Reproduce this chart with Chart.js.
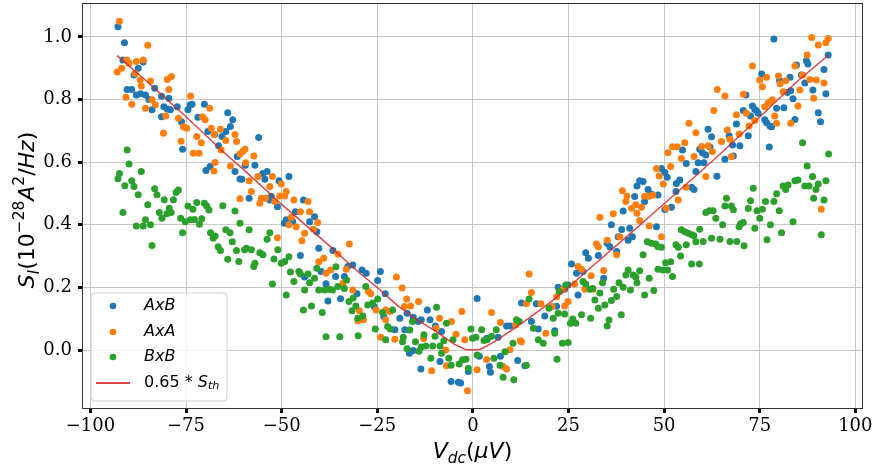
<!DOCTYPE html>
<html><head><meta charset="utf-8">
<script src="https://cdn.jsdelivr.net/npm/chart.js@4"></script>
<style>html,body{margin:0;padding:0;background:#fff}#wrap{width:874px;height:466px}</style>
</head><body><div id="wrap"><canvas id="c" width="874" height="466"></canvas></div>
<script>
const xTicks = [-100, -75, -50, -25, 0, 25, 50, 75, 100];
const yTicks = [0.0, 0.2, 0.4, 0.6, 0.8, 1.0];
const seriesNames = ['AxB', 'AxA', 'BxB', '0.65 * S_th'];

const axbPoints = [
[-92.8,1.032],[-91.5,0.926],[-91.1,0.981],[-90.4,0.832],[-89.2,0.832],[-88.6,0.878],[-88.0,0.814],[-87.5,0.90],[-86.9,0.818],[-86.2,0.92],[-85.6,0.814],[-84.7,0.80],[-83.9,0.767],[-83.2,0.836],[-81.4,0.81],[-81.4,0.745],[-80.8,0.777],[-79.9,0.77],[-79.5,0.804],[-79.1,0.767],[-77.3,0.777],[-76.2,0.729],[-75.9,0.641],[-74.5,0.767],[-73.9,0.783],[-73.4,0.785],[-71.9,0.743],[-70.2,0.785],[-69.8,0.573],[-69.3,0.698],[-68.7,0.586],[-67.5,0.688],[-66.5,0.652],[-65.6,0.682],[-64.6,0.698],[-64.1,0.758],[-63.4,0.714],[-62.8,0.735],[-62.2,0.57],[-61.6,0.618],[-60.9,0.546],
[-60.4,0.545],[-59.5,0.59],[-58.5,0.485],[-57.0,0.59],[-56.0,0.679],[-54.9,0.564],[-54.4,0.545],[-53.8,0.57],[-53.1,0.479],[-52.7,0.49],[-51.1,0.458],[-50.7,0.541],[-49.3,0.405],[-48.8,0.416],[-48.1,0.554],[-47.1,0.41],[-46.4,0.442],[-45.1,0.302],[-44.3,0.479],[-44.0,0.233],[-42.7,0.41],[-41.4,0.426],[-40.8,0.378],[-40.3,0.325],[-39.7,0.251],[-38.4,0.212],[-37.9,0.157],[-36.6,0.318],[-35.9,0.235],[-34.6,0.164],[-33.6,0.235],[-32.7,0.267],[-31.4,0.272],[-30.3,0.18],[-29.0,0.256],[-27.9,0.245],[-25.8,0.139],[-24.9,0.222],[-24.2,0.251],[-23.3,0.107],[-22.9,0.18],
[-20.4,0.065],[-19.1,0.102],[-17.8,0.065],[-17.2,0.118],[-16.6,-0.01],[-15.6,0.105],[-15.6,-0.001],[-14.3,0.091],[-13.6,-0.06],[-13.5,0.097],[-11.9,0.128],[-11.2,0.097],[-9.8,0.077],[-8.6,-0.036],[-8.2,0.059],[-5.7,-0.1],[-3.8,-0.103],[-3.2,-0.105],[-1.2,-0.068],[1.1,0.165],[1.7,-0.02],[3.7,0.038],[4.3,-0.052],[4.6,-0.071],[6.6,0.041],[7.2,-0.02],[8.8,0.077],[9.7,0.077],[11.7,-0.033],[12.7,0.15],[13.6,-0.05],[15.3,0.091],[16.6,0.148],[17.1,0.067],[18.8,0.109],
[21.4,0.062],[21.9,0.14],[22.3,0.201],[24.0,0.194],[24.9,0.208],[25.8,0.275],[27.1,0.245],[27.5,0.176],[28.8,0.251],[29.5,0.311],[30.2,0.293],[32.8,0.302],[34.2,0.229],[35.1,0.341],[35.8,0.33],[36.2,0.40],[37.6,0.315],[38.0,0.362],[38.9,0.385],[39.3,0.444],[40.6,0.351],[41.0,0.389],[41.7,0.362],[42.3,0.49],[42.9,0.524],[43.6,0.541],[44.5,0.538],[44.9,0.474],[45.8,0.513],[46.7,0.498],[48.0,0.394],[48.4,0.495],[49.3,0.58],[50.2,0.567],[50.2,0.449],[50.8,0.552],[51.9,0.456],[53.1,0.506],[53.2,0.532],[54.1,0.543],[54.8,0.639],[55.8,0.596],[57.2,0.52],[57.8,0.513],[58.3,0.57],[58.9,0.598],
[59.3,0.641],[60.0,0.63],[60.4,0.598],[60.9,0.623],[61.5,0.705],[62.0,0.648],[62.4,0.681],[63.8,0.555],[65.9,0.609],[67.0,0.684],[67.9,0.655],[68.1,0.62],[68.9,0.722],[69.8,0.652],[70.7,0.765],[71.4,0.814],[72.0,0.684],[72.6,0.747],[73.1,0.779],[73.7,0.768],[74.1,0.765],[74.6,0.756],[75.5,0.881],[76.3,0.735],[76.8,0.726],[77.5,0.648],[77.7,0.715],[78.1,0.713],[78.7,0.993],[79.4,0.772],[80.2,0.861],[81.3,0.774],[82.2,0.822],[82.9,0.871],[83.1,0.828],[83.7,0.802],[84.2,0.736],[84.6,0.91],[85.9,0.878],[86.8,0.853],[87.2,0.924],[87.6,0.913],[88.9,0.83],[90.3,0.758],[90.9,0.729],[91.8,0.896],[92.3,0.818],[92.9,0.942]
];

const axaPoints = [
[-93.0,0.888],[-92.4,1.05],[-91.8,0.90],[-90.7,0.807],[-90.5,0.926],[-89.9,0.916],[-89.2,0.785],[-88.3,0.883],[-88.0,0.921],[-87.0,0.862],[-86.7,0.843],[-86.2,0.926],[-85.6,0.772],[-85.0,0.973],[-84.3,0.859],[-83.9,0.799],[-83.0,0.783],[-80.9,0.692],[-80.3,0.747],[-79.9,0.864],[-79.5,0.832],[-78.8,0.873],[-77.0,0.74],[-76.3,0.667],[-75.7,0.713],[-74.8,0.708],[-73.8,0.811],[-73.1,0.628],[-72.2,0.682],[-71.6,0.628],[-71.0,0.662],[-70.7,0.745],[-70.0,0.735],[-68.8,0.772],[-68.4,0.708],[-67.7,0.572],[-67.6,0.688],[-67.4,0.599],[-66.0,0.705],[-65.8,0.639],[-64.6,0.669],[-63.4,0.588],[-62.2,0.688],[-61.8,0.666],[-60.9,0.626],[-60.9,0.483],
[-60.2,0.634],[-59.6,0.641],[-59.4,0.598],[-58.5,0.541],[-57.9,0.506],[-57.3,0.62],[-56.2,0.554],[-55.7,0.469],[-55.3,0.485],[-54.2,0.485],[-53.1,0.522],[-52.4,0.554],[-51.8,0.474],[-51.1,0.359],[-50.5,0.492],[-50.1,0.53],[-49.2,0.492],[-48.8,0.506],[-48.1,0.40],[-47.5,0.423],[-46.8,0.479],[-46.2,0.394],[-45.1,0.442],[-44.7,0.349],[-44.0,0.373],[-43.1,0.474],[-42.7,0.442],[-41.7,0.386],[-40.6,0.407],[-40.3,0.282],[-39.0,0.293],[-38.4,0.245],[-37.2,0.256],[-35.3,0.307],[-34.0,0.213],[-33.1,0.258],[-32.3,0.339],[-31.4,0.192],[-30.1,0.094],[-29.7,0.126],[-28.6,0.097],[-27.3,0.187],[-26.7,0.18],[-25.3,0.128],[-24.1,0.041],[-22.8,0.097],[-22.8,0.128],
[-21.7,0.123],[-20.4,0.035],[-20.0,0.233],[-18.5,0.198],[-17.9,0.139],[-17.3,0.163],[-16.3,0.141],[-14.2,0.155],[-12.9,0.037],[-10.8,-0.066],[-9.6,0.07],[-8.7,0.102],[-7.1,0.0],[-6.9,-0.05],[-5.6,0.091],[-4.4,0.051],[-2.9,0.123],[-2.1,0.033],[-1.4,-0.13],[1.1,-0.063],[3.6,-0.03],[4.9,0.12],[7.2,0.088],[7.9,-0.052],[8.8,-0.06],[9.7,0.001],[11.2,0.08],[12.4,0.03],[12.7,0.027],[14.0,0.148],[14.7,0.243],[15.3,0.184],[17.8,0.148],[19.1,0.054],[20.7,0.139],
[21.9,0.17],[23.6,0.194],[24.0,0.141],[24.9,0.155],[26.6,0.211],[27.5,0.267],[28.4,0.258],[29.3,0.194],[30.9,0.237],[31.4,0.194],[32.3,0.339],[32.8,0.33],[33.2,0.424],[34.2,0.254],[35.1,0.351],[36.7,0.435],[37.6,0.304],[38.4,0.362],[39.1,0.509],[40.0,0.474],[40.3,0.491],[41.5,0.453],[42.6,0.464],[42.9,0.437],[43.6,0.414],[44.1,0.456],[44.9,0.491],[46.1,0.491],[46.1,0.396],[47.1,0.495],[48.0,0.58],[48.7,0.556],[49.3,0.362],[49.8,0.53],[50.6,0.453],[51.0,0.63],[51.7,0.586],[52.2,0.649],[53.4,0.649],[53.7,0.479],[54.5,0.612],[55.4,0.662],[55.8,0.52],[56.5,0.724],[57.8,0.618],[58.3,0.694],
[59.8,0.65],[60.9,0.554],[61.5,0.652],[62.6,0.634],[63.0,0.765],[63.9,0.832],[65.0,0.666],[65.9,0.811],[66.5,0.703],[67.2,0.673],[67.6,0.618],[68.9,0.751],[69.6,0.69],[70.7,0.817],[71.5,0.756],[72.2,0.715],[73.1,0.907],[73.7,0.733],[75.0,0.862],[75.7,0.841],[76.3,0.777],[76.8,0.871],[77.2,0.788],[77.8,0.793],[78.3,0.799],[78.9,0.747],[79.4,0.724],[79.9,0.875],[80.3,0.85],[81.1,0.825],[81.8,0.86],[83.1,0.724],[84.2,0.907],[85.0,0.779],[85.5,0.83],[86.2,0.878],[87.4,0.942],[88.1,0.864],[88.6,0.998],[89.1,0.804],[89.8,0.862],[90.3,0.974],[91.1,0.45],[91.8,0.853],[92.3,0.981],[92.9,0.995]
];

const bxbPoints = [
[-92.8,0.547],[-92.4,0.564],[-91.5,0.439],[-91.0,0.525],[-90.4,0.639],[-89.9,0.594],[-89.2,0.541],[-88.6,0.522],[-88.0,0.396],[-87.5,0.496],[-86.7,0.57],[-86.2,0.396],[-85.6,0.416],[-85.0,0.464],[-84.3,0.40],[-83.9,0.334],[-83.2,0.515],[-82.6,0.496],[-82.0,0.439],[-81.3,0.421],[-80.7,0.48],[-80.0,0.435],[-79.4,0.453],[-78.9,0.439],[-78.3,0.48],[-77.6,0.503],[-77.0,0.511],[-76.4,0.421],[-75.9,0.375],[-75.2,0.41],[-74.5,0.46],[-73.9,0.416],[-73.2,0.45],[-72.8,0.417],[-72.2,0.471],[-71.5,0.402],[-70.9,0.419],[-70.2,0.469],[-69.6,0.46],[-69.0,0.447],[-68.6,0.375],[-67.9,0.357],[-67.4,0.364],[-66.6,0.33],[-66.0,0.318],[-65.4,0.461],[-64.6,0.384],[-64.1,0.29],[-63.5,0.375],[-62.9,0.346],[-62.2,0.444],[-61.8,0.318],[-61.2,0.283],[-60.9,0.405],
[-59.7,0.32],[-59.2,0.325],[-58.5,0.384],[-57.9,0.32],[-57.3,0.267],[-57.0,0.277],[-55.7,0.311],[-54.9,0.304],[-53.8,0.354],[-53.1,0.375],[-52.4,0.211],[-52.0,0.291],[-51.0,0.32],[-50.1,0.277],[-49.2,0.283],[-48.8,0.176],[-48.1,0.298],[-47.7,0.249],[-46.8,0.219],[-45.5,0.251],[-45.1,0.243],[-44.3,0.128],[-44.0,0.192],[-43.1,0.243],[-42.7,0.215],[-42.2,0.141],[-41.4,0.229],[-40.8,0.261],[-40.3,0.192],[-39.4,0.12],[-38.8,0.192],[-38.4,0.043],[-37.5,0.194],[-36.7,0.192],[-35.8,0.266],[-35.3,0.203],[-34.8,0.043],[-33.6,0.197],[-33.0,0.224],[-32.4,0.155],[-31.6,0.126],[-31.3,0.166],[-30.6,0.141],[-30.1,0.102],[-30.0,0.046],[-28.8,0.109],[-28.0,0.203],[-27.5,0.144],[-26.2,0.15],[-25.5,0.067],[-24.9,0.163],[-23.6,0.12],[-22.8,0.033],[-22.3,0.075],
[-21.6,0.067],[-21.0,0.128],[-18.4,0.027],[-18.2,0.041],[-17.2,0.004],[-16.5,0.064],[-15.8,0.091],[-15.0,0.027],[-14.1,-0.004],[-13.5,0.01],[-12.8,0.049],[-12.3,0.013],[-11.0,-0.026],[-10.5,0.013],[-9.9,0.044],[-9.5,0.137],[-8.6,0.013],[-8.2,-0.01],[-7.6,0.03],[-6.9,0.086],[-6.3,-0.026],[-5.7,-0.048],[-5.2,0.033],[-3.6,-0.044],[-2.7,-0.031],[-1.8,-0.029],[-1.2,-0.058],[-0.5,0.067],[-0.1,0.038],[0.8,0.041],[1.1,-0.016],[2.3,0.065],[2.9,0.031],[3.7,0.033],[4.9,0.044],[5.5,-0.026],[6.1,0.065],[7.1,-0.048],[7.9,-0.087],[8.4,-0.005],[10.5,0.022],[10.7,-0.095],[11.4,0.097],[12.1,0.091],[14.0,-0.048],[14.7,0.163],[15.8,0.07],[17.1,0.033],[18.4,0.022],[19.9,0.134],
[21.0,0.102],[21.4,0.054],[22.0,-0.029],[22.3,0.118],[22.6,0.187],[23.4,0.022],[24.0,0.115],[24.3,0.208],[24.9,0.024],[25.5,0.086],[26.1,0.099],[26.9,0.086],[28.4,0.113],[28.8,0.219],[29.5,0.211],[30.6,0.194],[30.8,0.102],[31.3,0.197],[31.9,0.16],[32.8,0.134],[33.2,0.182],[33.9,0.215],[34.5,0.144],[35.1,0.077],[35.6,0.096],[36.2,0.158],[36.8,0.194],[37.6,0.171],[38.2,0.215],[38.8,0.113],[39.3,0.201],[40.0,0.24],[40.6,0.256],[41.2,0.192],[41.9,0.24],[42.6,0.233],[42.9,0.215],[43.6,0.253],[44.5,0.304],[44.9,0.176],[45.6,0.346],[46.1,0.229],[46.7,0.341],[47.3,0.19],[47.8,0.339],[48.4,0.33],[48.4,0.258],[49.3,0.328],[49.7,0.256],[50.4,0.279],[50.9,0.256],[51.7,0.282],[52.2,0.235],[53.1,0.336],[53.7,0.328],[54.3,0.3],[54.5,0.384],[55.4,0.378],[55.8,0.336],[56.3,0.373],[57.2,0.368],[57.2,0.275],[57.8,0.365],[58.3,0.346],[59.2,0.275],
[59.3,0.386],[60.2,0.347],[60.9,0.439],[61.8,0.445],[62.4,0.357],[62.8,0.445],[63.5,0.421],[64.6,0.354],[65.3,0.40],[65.9,0.46],[66.3,0.485],[67.2,0.347],[67.6,0.46],[68.1,0.448],[69.0,0.347],[69.6,0.394],[70.0,0.403],[70.7,0.407],[70.9,0.333],[72.0,0.452],[72.6,0.477],[73.3,0.517],[73.7,0.389],[74.3,0.445],[75.0,0.421],[75.7,0.45],[76.5,0.474],[76.9,0.352],[77.8,0.40],[78.7,0.474],[79.4,0.499],[80.1,0.445],[80.7,0.375],[81.1,0.524],[81.8,0.513],[82.4,0.527],[83.7,0.41],[84.2,0.541],[85.0,0.543],[86.2,0.662],[86.8,0.524],[87.4,0.588],[87.9,0.524],[88.8,0.554],[89.1,0.485],[89.7,0.513],[90.3,0.53],[91.1,0.368],[91.8,0.479],[92.3,0.541],[93.0,0.626]
];

const thPoints = [
[-93,0.94],[-85,0.855],[-75,0.745],[-65,0.63],[-60,0.577],[-50,0.465],[-40,0.36],[-30,0.25],[-25,0.2],[-20,0.145],[-15,0.1],[-10,0.062],[-5,0.02],[-2,0.002],[0,0.0],[2,0.003],[5,0.022],[10,0.062],[15,0.105],[20,0.15],[25,0.2],[30,0.255],[40,0.36],[50,0.467],[60,0.575],[65,0.63],[75,0.744],[85,0.86],[93,0.942]
];

const colors = ['#1f77b4', '#ff7f0e', '#2ca02c', 'rgba(214,39,40,0.85)'];
const toXY = a => a.map(p => ({x: p[0], y: p[1]}));
const MATH = '"DejaVu Sans", sans-serif';

function drawRich(ctx, segs, base) {
  let w = 0;
  for (const g of segs) {
    ctx.font = (g.it ? 'italic ' : '') + (base * (g.s || 1)) + 'px ' + MATH;
    g.w = ctx.measureText(g.t).width;
    w += g.w;
  }
  return {w, draw(x, y) {
    let cx = x;
    for (const g of segs) {
      ctx.font = (g.it ? 'italic ' : '') + (base * (g.s || 1)) + 'px ' + MATH;
      ctx.fillText(g.t, cx, y + (g.dy || 0) * base);
      cx += g.w;
    }
  }};
}

const decor = {
  id: 'decor',
  afterDatasetsDraw(chart) {
    const ctx = chart.ctx, a = chart.chartArea;
    ctx.save();
    ctx.strokeStyle = '#333';
    ctx.lineWidth = 1;
    ctx.strokeRect(Math.round(a.left) + 0.5, Math.round(a.top) + 0.5, Math.round(a.right - a.left) - 1, Math.round(a.bottom - a.top) - 1);
    ctx.restore();
  },
  afterDraw(chart) {
    const ctx = chart.ctx, a = chart.chartArea;
    ctx.save();
    ctx.fillStyle = '#000';
    ctx.textBaseline = 'alphabetic';
    ctx.textAlign = 'left';
    const xt = drawRich(ctx, [
      {t: 'V', it: true}, {t: 'dc', it: true, s: 0.7, dy: 0.22},
      {t: '(', it: false}, {t: '\u03bcV', it: true}, {t: ')', it: false}
    ], 22);
    xt.draw((a.left + a.right) / 2 - xt.w / 2, 458);
    const yt = drawRich(ctx, [
      {t: 'S', it: true}, {t: 'I', it: true, s: 0.7, dy: 0.22},
      {t: '(10', it: false}, {t: '\u221228', it: false, s: 0.7, dy: -0.45},
      {t: 'A', it: true}, {t: '2', it: false, s: 0.7, dy: -0.45},
      {t: '/', it: false}, {t: 'Hz', it: true}, {t: ')', it: false}
    ], 22);
    ctx.save();
    ctx.translate(34, (a.top + a.bottom) / 2 + 4);
    ctx.rotate(-Math.PI / 2);
    yt.draw(-yt.w / 2, 0);
    ctx.restore();

    const lx = 91, ly = 293, lw = 136, lh = 108, r = 4;
    ctx.beginPath();
    ctx.moveTo(lx + r, ly);
    ctx.arcTo(lx + lw, ly, lx + lw, ly + lh, r);
    ctx.arcTo(lx + lw, ly + lh, lx, ly + lh, r);
    ctx.arcTo(lx, ly + lh, lx, ly, r);
    ctx.arcTo(lx, ly, lx + lw, ly, r);
    ctx.closePath();
    ctx.fillStyle = 'rgba(255,255,255,0.8)';
    ctx.fill();
    ctx.strokeStyle = '#d0d0d0';
    ctx.lineWidth = 1;
    ctx.stroke();
    const rows = [306, 332, 357, 383];
    ctx.textBaseline = 'middle';
    for (let i = 0; i < 3; i++) {
      ctx.beginPath();
      ctx.arc(113, rows[i], 3.3, 0, Math.PI * 2);
      ctx.fillStyle = colors[i];
      ctx.fill();
      ctx.fillStyle = '#000';
      ctx.font = 'italic 16px ' + MATH;
      ctx.fillText(seriesNames[i], 144, rows[i]);
    }
    ctx.beginPath();
    ctx.moveTo(96, rows[3]); ctx.lineTo(130, rows[3]);
    ctx.strokeStyle = colors[3]; ctx.lineWidth = 1.8; ctx.stroke();
    ctx.fillStyle = '#000';
    const lg = drawRich(ctx, [
      {t: '0.65', it: false}, {t: ' * ', it: false}, {t: 'S', it: true},
      {t: 'th', it: true, s: 0.7, dy: 0.22}
    ], 16);
    lg.draw(144, rows[3]);
    ctx.restore();
  }
};

const fmtX = v => v < 0 ? '\u2212' + Math.abs(v) : String(v);

new Chart(document.getElementById('c'), {
  type: 'scatter',
  data: {
    datasets: [
      {label: seriesNames[3], data: toXY(thPoints), showLine: true, borderColor: colors[3], borderWidth: 1.5, pointRadius: 0, fill: false, order: 0},
      {label: seriesNames[2], data: toXY(bxbPoints), backgroundColor: colors[2], borderWidth: 0, pointRadius: 3.5, order: 1},
      {label: seriesNames[1], data: toXY(axaPoints), backgroundColor: colors[1], borderWidth: 0, pointRadius: 3.5, order: 2},
      {label: seriesNames[0], data: toXY(axbPoints), backgroundColor: colors[0], borderWidth: 0, pointRadius: 3.5, order: 3}
    ]
  },
  options: {
    responsive: false,
    animation: false,
    events: [],
    layout: {padding: {top: 3, right: 11, left: 0, bottom: 0}, autoPadding: false},
    plugins: {legend: {display: false}, tooltip: {enabled: false}},
    scales: {
      x: {
        type: 'linear', min: -102.2, max: 102,
        afterBuildTicks: s => { s.ticks = xTicks.map(v => ({value: v})); },
        afterFit: s => { s.height = 57; s.paddingLeft = 0; s.paddingRight = 0; },
        ticks: {callback: fmtX, font: {family: '"DejaVu Serif", serif', size: 18}, color: '#000', padding: 3, maxRotation: 0, autoSkip: false},
        grid: {color: '#c8c8c8', lineWidth: 1, tickColor: '#000', tickLength: 4, tickWidth: 3},
        border: {display: false}
      },
      y: {
        type: 'linear', min: -0.188, max: 1.108,
        afterBuildTicks: s => { s.ticks = yTicks.map(v => ({value: v})); },
        afterFit: s => { s.width = 82; s.paddingTop = 0; s.paddingBottom = 0; },
        ticks: {callback: v => v.toFixed(1), font: {family: '"DejaVu Serif", serif', size: 18}, color: '#000', padding: 6, autoSkip: false},
        grid: {color: '#c8c8c8', lineWidth: 1, tickColor: '#000', tickLength: 4, tickWidth: 3},
        border: {display: false}
      }
    }
  },
  plugins: [decor]
});
</script></body></html>
